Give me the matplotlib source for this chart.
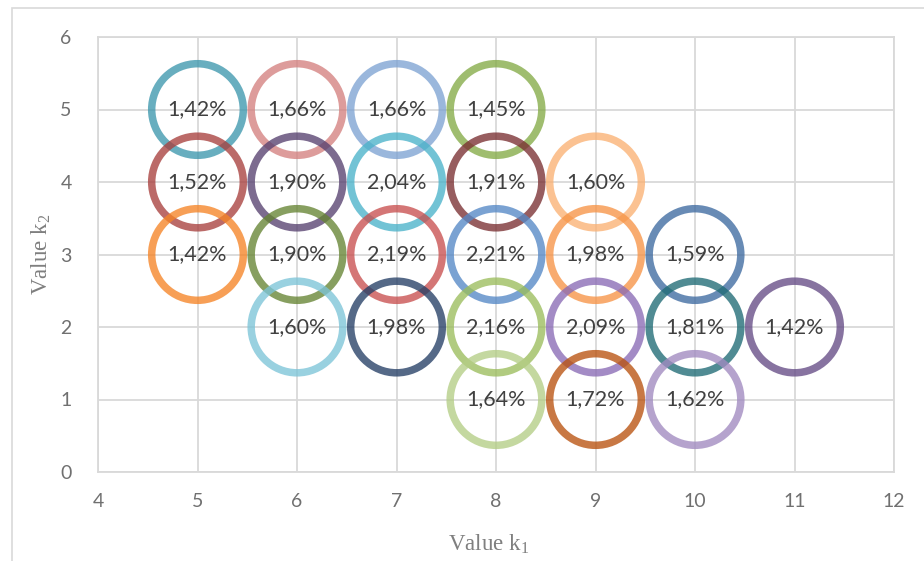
import matplotlib
matplotlib.use("Agg")
import matplotlib.pyplot as plt
from matplotlib.patches import Rectangle

# Parameter grid (k1, k2) and the resulting rate at each combination
k1 = [5, 6, 7, 8,
      5, 6, 7, 8, 9,
      5, 6, 7, 8, 9, 10,
      6, 7, 8, 9, 10, 11,
      8, 9, 10]
k2 = [5, 5, 5, 5,
      4, 4, 4, 4, 4,
      3, 3, 3, 3, 3, 3,
      2, 2, 2, 2, 2, 2,
      1, 1, 1]
rate = [1.42, 1.66, 1.66, 1.45,
        1.52, 1.90, 2.04, 1.91, 1.60,
        1.42, 1.90, 2.19, 2.21, 1.98, 1.59,
        1.60, 1.98, 2.16, 2.09, 1.81, 1.42,
        1.64, 1.72, 1.62]
ring_colors = ['#3d97ad', '#d4807f', '#7ea3d3', '#84ab47',
               '#a8403e', '#574170', '#4bb2ca', '#7a2f32', '#fab173',
               '#f58426', '#668433', '#c8504f', '#5588c6', '#f79446', '#3e6aa0',
               '#7cc4d8', '#253f66', '#9bbd5c', '#8a6bb5', '#1f6b75', '#654c86',
               '#b4cd85', '#b9520f', '#a08ac0']

x_ticks = [4, 5, 6, 7, 8, 9, 10, 11, 12]
y_ticks = [0, 1, 2, 3, 4, 5, 6]

plt.rcParams['mathtext.fontset'] = 'custom'
plt.rcParams['mathtext.rm'] = 'Liberation Serif'

fig = plt.figure(figsize=(9.24, 5.61), dpi=100)
ax = fig.add_axes([98 / 924, 1 - 472 / 561, (894 - 98) / 924, (472 - 37) / 561])

# light frame around the whole chart area
fig.patches.append(Rectangle((11.5 / 924, -0.05), 1.0, 1 - 8.5 / 561 + 0.05,
                             transform=fig.transFigure, fill=False,
                             edgecolor='#d9d9d9', linewidth=1.2))

grid_c = '#d9d9d9'
ax.set_xlim(4, 12)
ax.set_ylim(0, 6)
ax.set_xticks(x_ticks)
ax.set_yticks(y_ticks)
ax.grid(True, color=grid_c, linewidth=1.3, zorder=0)
ax.set_axisbelow(True)
for s in ax.spines.values():
    s.set_color(grid_c)
    s.set_linewidth(1.3)
ax.tick_params(length=0, labelsize=14, labelcolor='#707070')
ax.tick_params(axis='x', pad=15)
ax.tick_params(axis='y', pad=19)
for lab in ax.get_xticklabels() + ax.get_yticklabels():
    lab.set_family('Lato')

for xi, yi, r, c in zip(k1, k2, rate, ring_colors):
    ax.scatter([xi], [yi], s=4350, facecolors='none', edgecolors=c,
               linewidths=5.4, alpha=0.78, zorder=3, clip_on=False)

for xi, yi, r in zip(k1, k2, rate):
    ax.text(xi, yi, f"{r:.2f}%".replace('.', ','), ha='center', va='center',
            fontsize=15.5, family='Lato', color='#404040', zorder=5)

ax.set_xlabel(r'Value k$_{\mathrm{1}}$', family='Liberation Serif',
              fontsize=16.5, color='#7f7f7f')
ax.set_ylabel(r'Value k$_{\mathrm{2}}$', family='Liberation Serif',
              fontsize=16.5, color='#7f7f7f')
ax.xaxis.set_label_coords(0.49, -0.138)
ax.yaxis.set_label_coords(-0.056, 0.5)

fig.savefig('out.png', dpi=100)
